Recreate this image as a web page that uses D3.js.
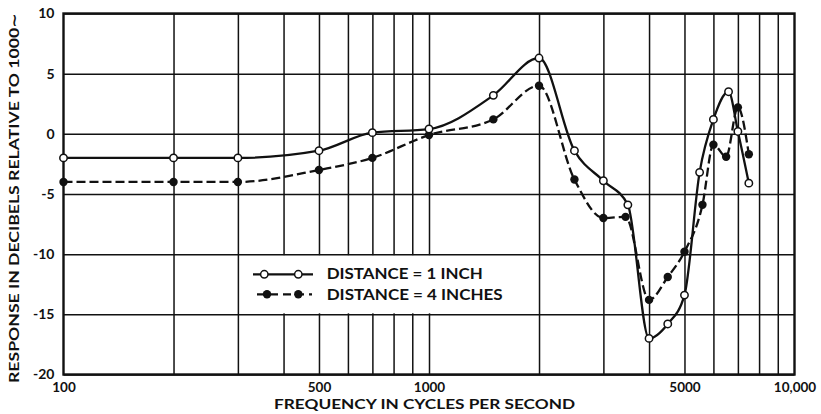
<!DOCTYPE html>
<html>
<head>
<meta charset="utf-8">
<script src="https://cdn.jsdelivr.net/npm/d3@7"></script>
<style>
  html, body { margin: 0; padding: 0; background: #fff; }
  svg { display: block; }
  text { font-family: Lato, "DejaVu Sans", sans-serif; fill: #111; font-weight: 700; }
</style>
</head>
<body>
<svg id="chart" width="821" height="414"></svg>
<script>
// ---- data ----
const freq1 = [100, 200, 300, 500, 700, 1000, 1500, 2000, 2500, 3000, 3500, 4000, 4500, 5000, 5500, 6000, 6600, 7000, 7500];
const resp1 = [-2, -2, -2, -1.4, 0.1, 0.4, 3.2, 6.3, -1.4, -3.9, -5.9, -17, -15.8, -13.4, -3.2, 1.2, 3.5, 0.2, -4.1];
const freq4 = [100, 200, 300, 500, 700, 1000, 1500, 2000, 2500, 3000, 3450, 4000, 4500, 5000, 5600, 6000, 6500, 7000, 7500];
const resp4 = [-4, -4, -4, -3, -2, -0.1, 1.2, 4, -3.8, -7, -6.9, -13.8, -11.9, -9.8, -5.9, -0.9, -1.9, 2.2, -1.7];
const seriesNames = ["DISTANCE = 1 INCH", "DISTANCE = 4 INCHES"];
const xGrid = [200, 300, 400, 500, 600, 700, 800, 900, 1000, 2000, 3000, 4000, 5000, 6000, 7000, 8000, 9000];
const xTickValues = [100, 500, 1000, 5000, 10000];
const xTickLabels = ["100", "500", "1000", "5000", "10,000"];
const yTickValues = [-20, -15, -10, -5, 0, 5, 10];
const yTickLabels = ["-20", "-15", "-10", "-5", "0", "5", "10"];
const xTitle = "FREQUENCY IN CYCLES PER SECOND";
const yTitle = "RESPONSE IN DECIBELS RELATIVE TO 1000\u223C";

// ---- layout ----
const L = 63.5, R = 794.5, T = 13.5, B = 374.5;
const FONT = "Lato, 'DejaVu Sans', sans-serif";
const svg = d3.select("#chart");
const x = d3.scaleLog().domain([100, 10000]).range([L, R]);
const y = d3.scaleLinear().domain([-20, 10]).range([B, T]);

// vertical grid
svg.append("g").attr("transform", `translate(0,${B})`)
  .call(d3.axisBottom(x).tickValues(xGrid).tickSize(-(B - T)).tickFormat(""))
  .call(g => g.select(".domain").remove())
  .call(g => g.selectAll("line").attr("stroke", "#111").attr("stroke-width", 1.5));

// legend background (covers vertical grid)
svg.append("rect").attr("x", 240).attr("y", y(-10) + 1).attr("width", 297)
  .attr("height", y(-15) - y(-10) - 2).attr("fill", "#fff");

// horizontal grid + y tick labels
svg.append("g").attr("transform", `translate(${L},0)`)
  .call(d3.axisLeft(y).tickValues(yTickValues).tickSize(-(R - L)).tickFormat((d, i) => yTickLabels[i]).tickPadding(9))
  .call(g => g.select(".domain").remove())
  .call(g => g.selectAll("line").attr("stroke", "#111").attr("stroke-width", 1.5))
  .call(g => g.selectAll("text").attr("font-size", 14).attr("fill", "#111")
    .style("font-family", FONT).style("font-weight", 700));

// x tick labels
svg.append("g").attr("transform", `translate(0,${B})`)
  .call(d3.axisBottom(x).tickValues(xTickValues).tickSize(0).tickPadding(8).tickFormat((d, i) => xTickLabels[i]))
  .call(g => g.select(".domain").remove())
  .call(g => g.selectAll("text").attr("font-size", 13.5).attr("fill", "#111")
    .style("font-family", FONT).style("font-weight", 700));

// frame
svg.append("rect").attr("x", L).attr("y", T).attr("width", R - L).attr("height", B - T)
  .attr("fill", "none").attr("stroke", "#111").attr("stroke-width", 2.4);

// titles
svg.append("text").attr("x", (274 + 575) / 2).attr("y", 408.5).attr("text-anchor", "middle")
  .attr("font-size", 12.5).attr("textLength", 301).attr("lengthAdjust", "spacingAndGlyphs").text(xTitle);
svg.append("text").attr("transform", "translate(18.5,198) rotate(-90)").attr("text-anchor", "middle")
  .attr("font-size", 14).attr("textLength", 370).attr("lengthAdjust", "spacingAndGlyphs").text(yTitle);

// lines
const line = d3.line().x(d => x(d[0])).y(d => y(d[1])).curve(d3.curveMonotoneX);
const d1 = freq1.map((f, i) => [f, resp1[i]]);
const d4 = freq4.map((f, i) => [f, resp4[i]]);

svg.append("path").attr("d", line(d4)).attr("fill", "none").attr("stroke", "#111")
  .attr("stroke-width", 2.3).attr("stroke-dasharray", "9,4");
svg.append("path").attr("d", line(d1)).attr("fill", "none").attr("stroke", "#111")
  .attr("stroke-width", 2.3);

svg.append("g").selectAll("circle").data(d4).join("circle")
  .attr("cx", d => x(d[0])).attr("cy", d => y(d[1])).attr("r", 4.2).attr("fill", "#111");
svg.append("g").selectAll("circle").data(d1).join("circle")
  .attr("cx", d => x(d[0])).attr("cy", d => y(d[1])).attr("r", 3.7)
  .attr("fill", "#fff").attr("stroke", "#111").attr("stroke-width", 1.5);

// legend
const lg = svg.append("g");
lg.append("line").attr("x1", 253).attr("x2", 313).attr("y1", 274.3).attr("y2", 274.3)
  .attr("stroke", "#111").attr("stroke-width", 2.3);
[264.3, 298.3].forEach(cx => lg.append("circle").attr("cx", cx).attr("cy", 274.3).attr("r", 3.7)
  .attr("fill", "#fff").attr("stroke", "#111").attr("stroke-width", 1.5));
lg.append("line").attr("x1", 254).attr("x2", 312).attr("y1", 294.3).attr("y2", 294.3)
  .attr("stroke", "#111").attr("stroke-width", 2.3).attr("stroke-dasharray", "8,5").attr("stroke-dashoffset", -3);
[267, 298.3].forEach(cx => lg.append("circle").attr("cx", cx).attr("cy", 294.3).attr("r", 4.2).attr("fill", "#111"));
lg.append("text").attr("x", 326.7).attr("y", 279.3).attr("font-size", 15)
  .attr("textLength", 156).attr("lengthAdjust", "spacingAndGlyphs").text(seriesNames[0]);
lg.append("text").attr("x", 326.7).attr("y", 300).attr("font-size", 15)
  .attr("textLength", 176).attr("lengthAdjust", "spacingAndGlyphs").text(seriesNames[1]);
</script>
</body>
</html>
